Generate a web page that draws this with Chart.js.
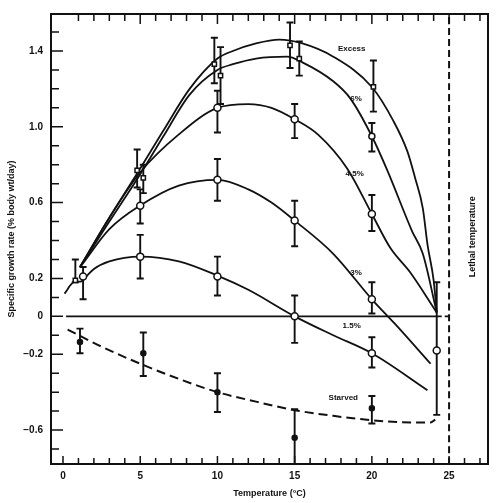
<!DOCTYPE html>
<html><head><meta charset="utf-8">
<script src="https://cdn.jsdelivr.net/npm/chart.js@4/dist/chart.umd.min.js"></script>
<style>html,body{margin:0;padding:0;background:#fff}</style>
</head><body>
<canvas id="c" width="500" height="503"></canvas>
<script>
// ---------- axis ticks / labels ----------
const xLabelVals = [0, 5, 10, 15, 20, 25];
const yLabelVals = [1.4, 1.0, 0.6, 0.2, 0, -0.2, -0.6];
const yLabelText = ['1.4', '1.0', '0.6', '0.2', '0', '\u22120.2', '\u22120.6'];
const xMinorTicks = [0,1,2,3,4,5,6,7,8,9,10,11,12,13,14,15,16,17,18,19,20,21,22,23,24,25,26,27];
const yMinorTicks = [-0.7,-0.6,-0.5,-0.4,-0.3,-0.2,-0.1,0,0.1,0.2,0.3,0.4,0.5,0.6,0.7,0.8,0.9,1.0,1.1,1.2,1.3,1.4,1.5];

// ---------- fitted curves ----------
const excessX = [1.1, 3, 5, 6.5, 8.2, 10, 11, 12.5, 14, 15.5, 17.5, 20, 21.4, 22.3, 22.8, 23.3, 23.6, 24.0, 24.2];
const excessY = [0.26, 0.52, 0.78, 0.98, 1.20, 1.36, 1.40, 1.44, 1.46, 1.44, 1.37, 1.21, 1.03, 0.87, 0.73, 0.57, 0.38, 0.19, 0.02];
const sixX = [1.1, 3, 5, 6.5, 8.2, 10, 11, 12.5, 14.5, 15.5, 17.5, 18.6, 20, 21, 22.6, 23.3, 24.2];
const sixY = [0.26, 0.50, 0.75, 0.95, 1.17, 1.30, 1.33, 1.36, 1.37, 1.34, 1.24, 1.15, 0.95, 0.77, 0.45, 0.33, 0.02];
const fourX = [1.1, 3, 5, 7.5, 10, 12, 13.5, 15, 16.5, 18.4, 20, 21.2, 22.5, 24.2];
const fourY = [0.26, 0.52, 0.76, 0.96, 1.10, 1.12, 1.10, 1.04, 0.96, 0.78, 0.54, 0.36, 0.23, 0.02];
const threeX = [1.2, 3, 5, 7.5, 10, 12, 13.5, 15, 17.5, 20, 21.5, 23.8];
const threeY = [0.27, 0.46, 0.585, 0.69, 0.72, 0.67, 0.60, 0.505, 0.33, 0.09, -0.04, -0.25];
const oneX = [0.1, 0.7, 1.2, 1.5, 2, 3, 5, 7.5, 10, 12, 15, 17.5, 20, 23.6];
const oneY = [0.12, 0.18, 0.185, 0.21, 0.25, 0.29, 0.315, 0.29, 0.215, 0.14, 0.0, -0.10, -0.195, -0.39];
const starvedX = [0.3, 2.5, 5, 7.5, 10, 12.5, 15, 17.5, 20, 22.5, 23.8, 24.1];
const starvedY = [-0.07, -0.16, -0.25, -0.33, -0.40, -0.45, -0.495, -0.525, -0.548, -0.56, -0.56, -0.545];
const zeroX = [0.2, 24.2];
const zeroY = [0, 0];
const zeroLinkX = [24.2, 25];
const zeroLinkY = [0, 0];
const lethalX = [25, 25];
const lethalY = [-0.78, 1.6];

// ---------- observed means with error bars ----------
const excessPX = [0.8, 4.8, 9.8, 14.7, 20.1];
const excessPY = [0.19, 0.77, 1.33, 1.43, 1.21];
const excessLo = [0.18, 0.68, 1.23, 1.31, 1.08];
const excessHi = [0.30, 0.88, 1.47, 1.55, 1.35];
const sixPX = [5.2, 10.2, 15.3, 20];
const sixPY = [0.73, 1.27, 1.36, 0.95];
const sixLo = [0.65, 1.12, 1.27, 0.87];
const sixHi = [0.80, 1.42, 1.45, 1.02];
const fourPX = [10, 15, 20];
const fourPY = [1.10, 1.04, 0.54];
const fourLo = [0.97, 0.94, 0.45];
const fourHi = [1.19, 1.12, 0.64];
const threePX = [5, 10, 15, 20, 24.2];
const threePY = [0.584, 0.72, 0.505, 0.09, -0.18];
const threeLo = [0.49, 0.61, 0.37, 0.015, -0.52];
const threeHi = [0.67, 0.83, 0.61, 0.18, 0.18];
const onePX = [1.3, 5, 10, 15, 20];
const onePY = [0.21, 0.315, 0.21, 0.0, -0.195];
const oneLo = [0.09, 0.20, 0.11, -0.14, -0.27];
const oneHi = [0.26, 0.43, 0.315, 0.11, -0.11];
const starvedPX = [1.1, 5.2, 10, 15, 20];
const starvedPY = [-0.135, -0.195, -0.40, -0.64, -0.485];
const starvedLo = [-0.195, -0.315, -0.505, -0.78, -0.565];
const starvedHi = [-0.065, -0.085, -0.30, -0.49, -0.42];

// ---------- curve labels ----------
const seriesNames = ['Excess', '6%', '4.5%', '3%', '1.5%', 'Starved'];
const nameX = [17.8, 18.6, 18.3, 18.6, 18.1, 17.2];
const nameY = [1.41, 1.15, 0.75, 0.23, -0.05, -0.43];
const lethalText = 'Lethal temperature';
const lethalTextAt = [26.5, 0.42];

const xy = (xs, ys) => xs.map((v, i) => ({x: v, y: ys[i]}));
const INK = '#111';

function curve(xs, ys, dash, w) {
  return {type: 'line', data: xy(xs, ys), borderColor: INK, borderWidth: w || 1.8,
    borderDash: dash || [], pointRadius: 0, fill: false,
    cubicInterpolationMode: 'monotone', order: 2};
}
function pts(xs, ys, style, filled, r) {
  return {type: 'scatter', data: xy(xs, ys), pointStyle: style,
    pointRadius: r, pointBackgroundColor: filled ? INK : '#fff',
    pointBorderColor: INK, pointBorderWidth: 1.5, showLine: false, order: 1};
}

const errSets = [
  {x: excessPX, lo: excessLo, hi: excessHi},
  {x: sixPX, lo: sixLo, hi: sixHi},
  {x: fourPX, lo: fourLo, hi: fourHi},
  {x: threePX, lo: threeLo, hi: threeHi},
  {x: onePX, lo: oneLo, hi: oneHi},
  {x: starvedPX, lo: starvedLo, hi: starvedHi}
];

const decor = {
  id: 'decor',
  beforeDatasetsDraw(chart) {
    const {ctx, chartArea: a, scales: {x, y}} = chart;
    ctx.save();
    ctx.beginPath(); ctx.rect(a.left, a.top, a.right - a.left, a.bottom - a.top); ctx.clip();
    ctx.strokeStyle = INK; ctx.lineWidth = 1.9;
    errSets.forEach(s => s.x.forEach((xv, i) => {
      const px = x.getPixelForValue(xv);
      const yl = y.getPixelForValue(s.lo[i]), yh = y.getPixelForValue(s.hi[i]);
      ctx.beginPath();
      ctx.moveTo(px, yl); ctx.lineTo(px, yh);
      ctx.moveTo(px - 3.5, yl); ctx.lineTo(px + 3.5, yl);
      ctx.moveTo(px - 3.5, yh); ctx.lineTo(px + 3.5, yh);
      ctx.stroke();
    }));
    ctx.restore();
  },
  afterDraw(chart) {
    const {ctx, chartArea: a, scales: {x, y}} = chart;
    ctx.save();
    ctx.strokeStyle = INK; ctx.lineWidth = 2;
    ctx.strokeRect(a.left, a.top, a.right - a.left, a.bottom - a.top);
    ctx.lineWidth = 1.5;
    ctx.beginPath();
    xMinorTicks.forEach(v => {
      const px = x.getPixelForValue(v);
      const major = xLabelVals.includes(v);
      ctx.moveTo(px, a.bottom); ctx.lineTo(px, a.bottom - (major ? 8 : 6));
      if (v > 0) { ctx.moveTo(px, a.top); ctx.lineTo(px, a.top + (major ? 10 : 7)); }
    });
    yMinorTicks.forEach(v => {
      const py = y.getPixelForValue(v);
      const major = yLabelVals.some(l => Math.abs(l - v) < 1e-6);
      ctx.moveTo(a.left, py); ctx.lineTo(a.left + (major ? 12 : 8), py);
    });
    ctx.stroke();
    ctx.fillStyle = INK;
    ctx.font = 'bold 8px "Liberation Sans", Arial, sans-serif';
    ctx.textAlign = 'left'; ctx.textBaseline = 'middle';
    seriesNames.forEach((t, i) => ctx.fillText(t, x.getPixelForValue(nameX[i]), y.getPixelForValue(nameY[i])));
    ctx.translate(x.getPixelForValue(lethalTextAt[0]), y.getPixelForValue(lethalTextAt[1]));
    ctx.rotate(-Math.PI / 2);
    ctx.textAlign = 'center';
    ctx.font = 'bold 9px "Liberation Sans", Arial, sans-serif';
    ctx.fillText(lethalText, 0, 0);
    ctx.restore();
  }
};

new Chart(document.getElementById('c'), {
  type: 'scatter',
  data: {datasets: [
    curve(excessX, excessY), curve(sixX, sixY), curve(fourX, fourY),
    curve(threeX, threeY), curve(oneX, oneY), curve(starvedX, starvedY, [9, 5], 2),
    curve(zeroX, zeroY), curve(zeroLinkX, zeroLinkY, [5, 3]), curve(lethalX, lethalY, [7, 4], 2),
    pts(excessPX, excessPY, 'rect', false, 3),
    pts(sixPX, sixPY, ['rect', 'rect', 'rect', 'circle'], false, 3),
    pts(fourPX, fourPY, 'circle', false, 3.5),
    pts(threePX, threePY, 'circle', false, 3.5),
    pts(onePX, onePY, 'circle', false, 3.5),
    pts(starvedPX, starvedPY, 'circle', true, 2.5)
  ]},
  options: {
    responsive: false, animation: false,
    layout: {padding: {top: 13, right: 12, left: 0, bottom: 0}},
    plugins: {legend: {display: false}, tooltip: {enabled: false}},
    scales: {
      x: {type: 'linear', min: -0.777, max: 27.52,
        grid: {display: false, drawTicks: false}, border: {display: false},
        afterFit: s => { s.height = 39; },
        afterBuildTicks: s => { s.ticks = xLabelVals.map(v => ({value: v})); },
        ticks: {color: INK, padding: 6, font: {size: 10, weight: 'bold', family: '"Liberation Sans", Arial'},
          callback: v => String(v)},
        title: {display: true, text: 'Temperature (\u00b0C)', color: INK,
          font: {size: 9, weight: 'bold', family: '"Liberation Sans", Arial'}, padding: {top: 0, bottom: 3.6}}
      },
      y: {type: 'linear', min: -0.779, max: 1.595,
        grid: {display: false, drawTicks: false}, border: {display: false},
        afterFit: s => { s.width = 51; },
        afterBuildTicks: s => { s.ticks = yLabelVals.map(v => ({value: v})); },
        ticks: {color: INK, padding: 8, font: {size: 10, weight: 'bold', family: '"Liberation Sans", Arial'},
          callback: v => yLabelText[yLabelVals.findIndex(l => Math.abs(l - v) < 1e-6)]},
        title: {display: true, text: 'Specific growth rate (% body wt/day)', color: INK,
          font: {size: 9, weight: 'bold', family: '"Liberation Sans", Arial'}, padding: {top: 6.6, bottom: 0}}
      }
    }
  },
  plugins: [decor]
});
</script>
</body></html>
